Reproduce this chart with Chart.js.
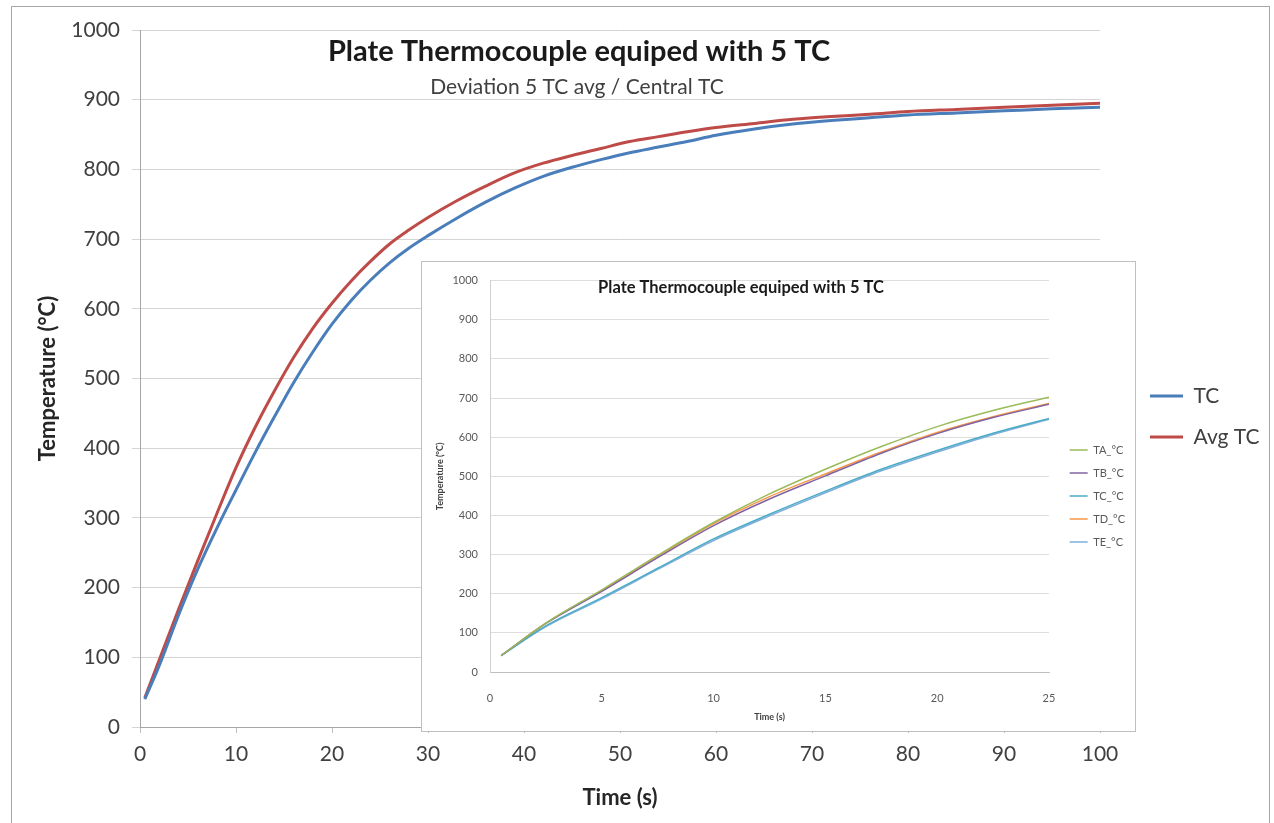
<!DOCTYPE html>
<html>
<head>
<meta charset="utf-8">
<title>Plate Thermocouple equiped with 5 TC</title>
<script src="https://cdn.jsdelivr.net/npm/chart.js@4.4.1/dist/chart.umd.min.js"></script>
<style>
  html, body { margin: 0; padding: 0; background: #fff; }
  body { width: 1274px; height: 823px; position: relative; overflow: hidden; }
  #frame { position: absolute; left: 11px; top: 6px; width: 1257px; height: 840px; border: 1px solid #a6a6a6; }
  #main { position: absolute; left: 0; top: 0; }
  #insetBox { position: absolute; left: 421px; top: 261px; width: 713px; height: 469px; border: 1px solid #bfbfbf; background: #fff; }
  #inset { position: absolute; left: 0; top: 0; }
</style>
</head>
<body>
<div id="frame"></div>
<canvas id="main" width="1274" height="823"></canvas>
<div id="insetBox"><canvas id="inset" width="713" height="469"></canvas></div>
<script>
// Gráfico principal: TC central x média dos 5 TC
const mainTitle = "Plate Thermocouple equiped with 5 TC";
const mainSubtitle = "Deviation 5 TC avg / Central TC";
const timeMain = [0.5, 2, 4, 6, 8, 10, 12, 14, 16, 18, 20, 22, 24, 26, 28, 30, 33, 36, 39, 42, 45, 48, 51, 54, 57, 60, 64, 68, 72, 76, 80, 85, 90, 95, 100];
const tcValues = [40, 88, 160, 226, 285, 340, 394, 445, 494, 538, 578, 612, 641, 666, 687, 705, 730, 753, 773, 790, 803, 814, 824, 832, 840, 849, 858, 865, 870, 874, 878, 881, 884, 887, 889];
const avgTcValues = [42, 96, 168, 238, 306, 372, 430, 482, 530, 572, 608, 640, 668, 693, 713, 731, 755, 776, 795, 809, 820, 830, 840, 847, 854, 860, 866, 872, 876, 879, 883, 886, 889, 892, 895];

// Gráfico inserido: os 5 termopares
const insetTitle = "Plate Thermocouple equiped with 5 TC";
const timeInset = [0.5, 2.5, 5, 7.5, 10, 12.5, 15, 17.5, 20, 22.5, 25];
const taValues = [42, 125, 210, 298, 382, 455, 518, 576, 627, 668, 702];
const tbValues = [42, 124, 206, 292, 374, 442, 501, 559, 609, 650, 684];
const tcInsetValues = [42, 118, 190, 265, 340, 403, 462, 518, 566, 610, 648];
const tdValues = [42, 125, 208, 295, 379, 448, 506, 562, 612, 652, 686];
const teValues = [42, 116, 187, 262, 336, 399, 458, 514, 562, 607, 646];

const FONT = "Lato";

function pts(xs, ys) {
  return xs.map((x, i) => ({ x: x, y: ys[i] }));
}

function serie(label, xs, ys, color, width) {
  return {
    label: label,
    data: pts(xs, ys),
    borderColor: color,
    backgroundColor: color,
    borderWidth: width,
    pointRadius: 0,
    cubicInterpolationMode: "monotone"
  };
}

// Largura natural da legenda do Chart.js (para posicionar a legenda à direita)
function legendWidth(labels, fontSize, boxWidth, padding) {
  const ctx = document.createElement("canvas").getContext("2d");
  ctx.font = fontSize + "px " + FONT;
  const textW = Math.max(...labels.map(t => ctx.measureText(t).width));
  return padding + boxWidth + fontSize / 2 + textW + 10;
}

// Títulos desenhados dentro da área do gráfico
function titlesPlugin(id, draw) {
  return { id: id, afterDraw(chart) { const ctx = chart.ctx; ctx.save(); draw(ctx, chart); ctx.restore(); } };
}

function renderMain() {
  const labels = ["TC", "Avg TC"];
  const plotRight = 1100;
  const lw = legendWidth(labels, 21, 33, 20);
  const padRight = Math.max(0, 1274 - 1130 - lw);
  const legendLeft = 1274 - padRight - lw;

  new Chart(document.getElementById("main"), {
    type: "line",
    data: {
      datasets: [
        serie(labels[0], timeMain, tcValues, "#4A7EBB", 3),
        serie(labels[1], timeMain, avgTcValues, "#BE4B48", 3)
      ]
    },
    options: {
      responsive: false,
      animation: false,
      devicePixelRatio: 1,
      layout: { padding: { left: 0, top: 30, right: padRight, bottom: 20 } },
      scales: {
        x: {
          type: "linear", min: 0, max: 100, position: "bottom",
          ticks: { stepSize: 10, padding: 9, color: "#404040", font: { family: FONT, size: 21 }, callback: v => String(v) },
          grid: { drawOnChartArea: false, drawTicks: true, tickLength: 6, color: "#bfbfbf" },
          border: { color: "#a6a6a6", width: 1 },
          title: { display: true, text: "Time (s)", color: "#262626", font: { family: FONT, size: 22, weight: "bold" }, padding: { top: 0, bottom: -8 } },
          afterFit: s => { s.height = 76; }
        },
        y: {
          type: "linear", min: 0, max: 1000, position: "left",
          ticks: { stepSize: 100, padding: 12, color: "#404040", font: { family: FONT, size: 21 }, callback: v => String(v) },
          grid: { color: "#d4d4d4", tickLength: 8 },
          border: { color: "#a6a6a6", width: 1 },
          title: { display: true, text: "Temperature (°C)", color: "#262626", font: { family: FONT, size: 22, weight: "bold" }, padding: { top: 35, bottom: 0 } },
          afterFit: s => { s.width = 140; }
        },
        gap: {
          type: "linear", position: "right", display: true,
          grid: { display: false }, ticks: { display: false }, border: { display: false },
          afterFit: s => { s.width = Math.max(0, legendLeft - plotRight); }
        }
      },
      plugins: {
        legend: {
          position: "right", align: "center",
          labels: { usePointStyle: true, pointStyle: "line", pointStyleWidth: 33, padding: 20, color: "#404040", font: { family: FONT, size: 21 } }
        },
        tooltip: { enabled: false }
      }
    },
    plugins: [titlesPlugin("mainTitles", ctx => {
      ctx.textAlign = "center";
      ctx.textBaseline = "middle";
      ctx.fillStyle = "#1a1a1a";
      ctx.font = "bold 29px " + FONT;
      ctx.fillText(mainTitle, 579, 52);
      ctx.fillStyle = "#404040";
      ctx.font = "21px " + FONT;
      ctx.fillText(mainSubtitle, 577, 87);
    })]
  });
}

function renderInset() {
  const labels = ["TA_°C", "TB_°C", "TC_°C", "TD_°C", "TE_°C"];
  const plotRight = 627;
  const lw = legendWidth(labels, 11, 18, 12);
  const padRight = Math.max(0, 713 - 638 - lw);
  const legendLeft = 713 - padRight - lw;

  new Chart(document.getElementById("inset"), {
    type: "line",
    data: {
      datasets: [
        serie(labels[0], timeInset, taValues, "#9BBB59", 1.5),
        serie(labels[1], timeInset, tbValues, "#8064A2", 1.5),
        serie(labels[2], timeInset, tcInsetValues, "#4BACC6", 1.5),
        serie(labels[3], timeInset, tdValues, "#F79646", 1.5),
        serie(labels[4], timeInset, teValues, "#7FAEDC", 1.5)
      ]
    },
    options: {
      responsive: false,
      animation: false,
      devicePixelRatio: 1,
      layout: { padding: { left: 0, top: 12, right: padRight, bottom: 13 } },
      scales: {
        x: {
          type: "linear", min: 0, max: 25, position: "bottom",
          ticks: { stepSize: 5, padding: 12, color: "#595959", font: { family: FONT, size: 11 } },
          grid: { display: false },
          border: { color: "#bfbfbf", width: 1 },
          title: { display: true, text: "Time (s)", color: "#404040", font: { family: FONT, size: 9, weight: "bold" }, padding: { top: 0, bottom: -4 } },
          afterFit: s => { s.height = 46; }
        },
        y: {
          type: "linear", min: 0, max: 1000, position: "left",
          ticks: { stepSize: 100, padding: 12, color: "#595959", font: { family: FONT, size: 11 }, callback: v => String(v) },
          grid: { color: "#dedede", drawTicks: false },
          border: { color: "#d0d0d0", width: 1 },
          title: { display: true, text: "Temperature (°C)", color: "#404040", font: { family: FONT, size: 9, weight: "bold" }, padding: { top: 13, bottom: 0 } },
          afterFit: s => { s.width = 68; }
        },
        gap: {
          type: "linear", position: "right", display: true,
          grid: { display: false }, ticks: { display: false }, border: { display: false },
          afterFit: s => { s.width = Math.max(0, legendLeft - plotRight); }
        }
      },
      plugins: {
        legend: {
          position: "right", align: "center",
          labels: { usePointStyle: true, pointStyle: "line", pointStyleWidth: 18, padding: 12, color: "#595959", font: { family: FONT, size: 11 } }
        },
        tooltip: { enabled: false }
      }
    },
    plugins: [titlesPlugin("insetTitles", ctx => {
      ctx.textAlign = "center";
      ctx.textBaseline = "middle";
      ctx.fillStyle = "#1a1a1a";
      ctx.font = "bold 16.5px " + FONT;
      ctx.fillText(insetTitle, 319, 26);
    })]
  });
}

Promise.all([
  document.fonts.load("21px " + FONT),
  document.fonts.load("bold 21px " + FONT)
]).catch(() => {}).then(() => {
  renderMain();
  renderInset();
});
</script>
</body>
</html>
